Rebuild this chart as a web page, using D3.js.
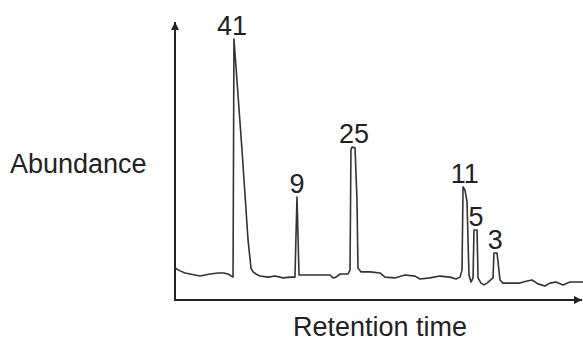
<!DOCTYPE html>
<html>
<head>
<meta charset="utf-8">
<script src="https://cdn.jsdelivr.net/npm/d3@7"></script>
<style>
    body { margin: 0; background: #fff; }
    .label { font-family: "Liberation Sans", Arial, sans-serif; font-size: 27px; fill: #222; }
</style>
</head>
<body>
<div id="chart"></div>
<script>
// trace (time in min, abundance in %)
const traceTime = [0.0, 0.49, 0.98, 1.47, 1.96, 2.45, 2.94, 3.43, 4.22, 4.80, 5.20, 5.69, 5.78, 6.57, 7.16, 7.45,
    7.65, 7.94, 8.33, 9.12, 9.80, 10.59, 11.27, 11.76, 11.96, 12.16, 12.75, 15.20, 15.49, 15.78, 16.18, 16.96,
    17.16, 17.25, 17.35, 17.65, 17.84, 17.94, 18.24, 19.12, 20.10, 20.59, 21.57, 22.55, 23.53, 24.02, 25.00,
    25.98, 26.96, 27.55, 27.94, 28.14, 28.24, 28.43, 28.63, 28.82, 29.02, 29.22, 29.31, 29.61, 29.71, 30.00,
    30.29, 30.59, 31.18, 31.27, 31.57, 31.76, 31.86, 32.16, 33.82, 34.51, 35.00, 35.59, 36.27, 36.76, 37.35,
    38.04, 38.73, 39.22, 40.00];
const traceAbundance = [12.3, 11.2, 10.4, 10.0, 9.6, 9.2, 9.6, 10.0, 10.4, 10.4, 10.0, 8.8, 100.4, 57.7, 23.1, 12.3,
    10.8, 10.0, 9.2, 8.8, 9.2, 8.5, 8.8, 8.8, 39.6, 9.6, 9.6, 9.6, 8.5, 8.8, 10.0, 10.0,
    11.5, 57.7, 58.8, 58.5, 38.5, 12.3, 10.8, 10.8, 10.4, 8.8, 8.5, 9.6, 9.2, 8.1, 8.5,
    9.2, 8.8, 8.1, 8.8, 11.5, 43.5, 42.3, 37.7, 9.6, 6.9, 8.5, 26.9, 26.9, 8.5, 6.5,
    5.8, 6.5, 8.5, 18.1, 18.1, 11.5, 7.7, 6.5, 6.5, 7.3, 7.7, 6.2, 5.4, 6.5, 6.9,
    5.8, 6.9, 6.9, 6.9];

// peak annotations
const peakLabels = ["41", "9", "25", "11", "5", "3"];
const peakTimes = [5.6, 11.96, 17.55, 28.4, 29.5, 31.4];
const peakHeights = [100.4, 39.6, 58.8, 43.5, 26.9, 18.1];

const xTitle = "Retention time";
const yTitle = "Abundance";

class Chromatogram {
    constructor(target, w, h) {
        this.target = target;
        this.w = w;
        this.h = h;
    }

    setup() {
        // axis origin and ends
        this.x0 = 175;
        this.y0 = 300;
        this.xScale = d3.scaleLinear().domain([0, 40]).range([this.x0, this.w]);
        this.yScale = d3.scaleLinear().domain([0, 100]).range([this.y0, 40]);
    }

    buildSVG() {
        this.svg = d3.select(this.target)
            .append("svg")
            .attr("width", this.w)
            .attr("height", this.h);

        const defs = this.svg.append("defs");
        defs.append("marker")
            .attr("id", "arrow")
            .attr("viewBox", "0 0 10 10")
            .attr("refX", 10)
            .attr("refY", 5)
            .attr("markerWidth", 4)
            .attr("markerHeight", 4)
            .attr("markerUnits", "strokeWidth")
            .attr("orient", "auto")
            .append("path")
            .attr("d", "M0,0 L10,5 L0,10 z")
            .style("fill", "#222");
    }

    drawAxes() {
        // plain arrows, no ticks
        this.svg.append("line")
            .attr("x1", this.x0).attr("y1", this.y0 + 1)
            .attr("x2", this.x0).attr("y2", 22)
            .attr("stroke", "#222").attr("stroke-width", 2)
            .attr("marker-end", "url(#arrow)");

        this.svg.append("line")
            .attr("x1", this.x0 - 1).attr("y1", this.y0)
            .attr("x2", this.w - 1).attr("y2", this.y0)
            .attr("stroke", "#222").attr("stroke-width", 2)
            .attr("marker-end", "url(#arrow)");

        this.svg.append("text")
            .attr("class", "label")
            .attr("x", 10)
            .attr("y", 173)
            .text(yTitle);

        this.svg.append("text")
            .attr("class", "label")
            .attr("x", 380)
            .attr("y", 336)
            .attr("text-anchor", "middle")
            .text(xTitle);
    }

    populate() {
        const values = traceTime.map((t, i) => ({ t: t, a: traceAbundance[i] }));

        const line = d3.line()
            .x((d) => this.xScale(d.t))
            .y((d) => this.yScale(d.a));

        this.svg.append("path")
            .datum(values)
            .attr("d", line)
            .attr("fill", "none")
            .attr("stroke", "#333")
            .attr("stroke-width", 1.6)
            .attr("stroke-linejoin", "round");

        this.svg.selectAll(".peak")
            .data(peakLabels)
            .enter()
            .append("text")
            .attr("class", "label peak")
            .attr("x", (d, i) => this.xScale(peakTimes[i]))
            .attr("y", (d, i) => this.yScale(peakHeights[i]) - 4)
            .attr("text-anchor", "middle")
            .text((d) => d);
    }

    render() {
        this.setup();
        this.buildSVG();
        this.drawAxes();
        this.populate();
    }
}

new Chromatogram(document.getElementById("chart"), 583, 342).render();
</script>
</body>
</html>
